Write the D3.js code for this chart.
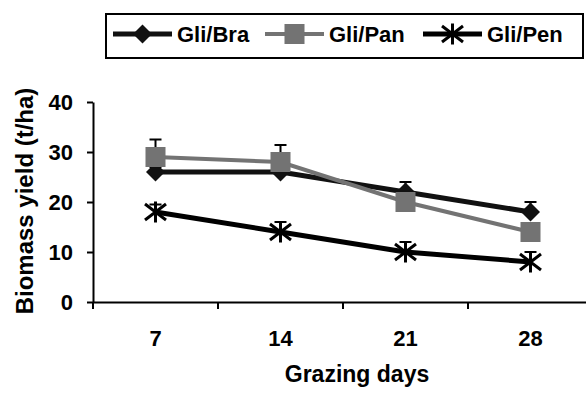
<!DOCTYPE html>
<html>
<head>
<meta charset="utf-8">
<script src="https://cdn.jsdelivr.net/npm/d3@7"></script>
<style>
  body { margin: 0; background: #fff; }
  svg { display: block; font-family: "Liberation Sans", Arial, sans-serif; font-weight: bold; }
</style>
</head>
<body>
<div id="chart"></div>
<script>
// data
var days = ["7", "14", "21", "28"];
var seriesNames = ["Gli/Bra", "Gli/Pan", "Gli/Pen"];
var braValues = [26, 26, 22, 18];
var panValues = [29, 28, 20, 14];
var penValues = [18, 14, 10, 8];
var braErr = [1, 1, 2, 2];
var panErr = [3.5, 3.4, 1, 1];
var penErr = [1.5, 2, 2, 2];
var yTicks = [0, 10, 20, 30, 40];

var width = 586, height = 394;
var margin = {left: 93, top: 102, bottom: 92};

var svg = d3.select("#chart").append("svg")
  .attr("width", width)
  .attr("height", height);

var x = d3.scaleBand()
  .domain(days)
  .range([margin.left, margin.left + 500]);

var y = d3.scaleLinear()
  .domain([0, 40])
  .range([height - margin.bottom, margin.top]);

var series = [
  {name: seriesNames[0], values: braValues, err: braErr, colour: "#111", width: 5, marker: "diamond"},
  {name: seriesNames[1], values: panValues, err: panErr, colour: "#737373", width: 4, marker: "square"},
  {name: seriesNames[2], values: penValues, err: penErr, colour: "#000", width: 5, marker: "star"}
];

var font = "Liberation Sans, Arial, sans-serif";

// axes
var xAxis = svg.append("g")
  .attr("transform", "translate(0," + y(0) + ")")
  .call(d3.axisBottom(x).tickSize(0).tickPadding(28));
xAxis.select(".domain").attr("stroke", "#000").attr("stroke-width", 2);
xAxis.selectAll("text").attr("font-size", 22).attr("font-weight", "bold").attr("font-family", font).attr("fill", "#000");
// category boundary ticks
xAxis.selectAll(".sep")
  .data(days)
  .enter()
  .append("line")
  .attr("x1", d => x(d))
  .attr("x2", d => x(d))
  .attr("y1", 0)
  .attr("y2", 7)
  .attr("stroke", "#000")
  .attr("stroke-width", 2);

var yAxis = svg.append("g")
  .attr("transform", "translate(" + margin.left + ",0)")
  .call(d3.axisLeft(y).tickValues(yTicks).tickSize(6).tickSizeOuter(0).tickPadding(14));
yAxis.select(".domain").attr("stroke", "#000").attr("stroke-width", 2);
yAxis.selectAll(".tick line").attr("stroke", "#000").attr("stroke-width", 2);
yAxis.selectAll("text").attr("font-size", 22).attr("font-weight", "bold").attr("font-family", font).attr("fill", "#000");

svg.append("text")
  .attr("transform", "translate(33,201) rotate(-90)")
  .attr("text-anchor", "middle")
  .attr("font-size", 24)
  .text("Biomass yield (t/ha)");

svg.append("text")
  .attr("x", 357)
  .attr("y", 382)
  .attr("text-anchor", "middle")
  .attr("font-size", 23)
  .text("Grazing days");

function cx(i) { return x(days[i]) + x.bandwidth() / 2; }

function drawMarker(g, type, colour) {
  if (type === "diamond") {
    g.append("path").attr("d", "M0,-9.5L9.5,0L0,9.5L-9.5,0Z").attr("fill", colour);
  } else if (type === "square") {
    g.append("rect").attr("x", -10).attr("y", -10).attr("width", 20).attr("height", 20).attr("fill", colour);
  } else {
    var s = 10.5, t = 8;
    g.append("path")
      .attr("d", "M0,-" + s + "V" + s + "M-" + s + ",-" + t + "L" + s + "," + t + "M-" + s + "," + t + "L" + s + ",-" + t)
      .attr("stroke", colour).attr("stroke-width", 3).attr("fill", "none");
  }
}

var line = d3.line()
  .x((d, i) => cx(i))
  .y(d => y(d));

series.forEach(function(s) {
  var g = svg.append("g");
  // upper error bars
  s.values.forEach(function(v, i) {
    g.append("line")
      .attr("x1", cx(i)).attr("x2", cx(i))
      .attr("y1", y(v)).attr("y2", y(v + s.err[i]))
      .attr("stroke", "#000").attr("stroke-width", 2);
    g.append("line")
      .attr("x1", cx(i) - 6).attr("x2", cx(i) + 6)
      .attr("y1", y(v + s.err[i])).attr("y2", y(v + s.err[i]))
      .attr("stroke", "#000").attr("stroke-width", 2);
  });
  g.append("path")
    .attr("d", line(s.values))
    .attr("fill", "none")
    .attr("stroke", s.colour)
    .attr("stroke-width", s.width);
  s.values.forEach(function(v, i) {
    drawMarker(g.append("g").attr("transform", "translate(" + cx(i) + "," + y(v) + ")"), s.marker, s.colour);
  });
});

// legend
var legend = svg.append("g");
legend.append("rect")
  .attr("x", 106).attr("y", 14)
  .attr("width", 477).attr("height", 44)
  .attr("fill", "#fff").attr("stroke", "#000").attr("stroke-width", 2);

var legendX = [113, 265, 423];
series.forEach(function(s, i) {
  var lg = legend.append("g").attr("transform", "translate(" + legendX[i] + ",34)");
  lg.append("line").attr("x1", 0).attr("x2", 59).attr("y1", 0).attr("y2", 0)
    .attr("stroke", s.colour).attr("stroke-width", s.width);
  drawMarker(lg.append("g").attr("transform", "translate(29.5,0)"), s.marker, s.colour);
  lg.append("text")
    .attr("x", 64).attr("y", 8)
    .attr("font-size", 22)
    .text(s.name);
});
</script>
</body>
</html>
